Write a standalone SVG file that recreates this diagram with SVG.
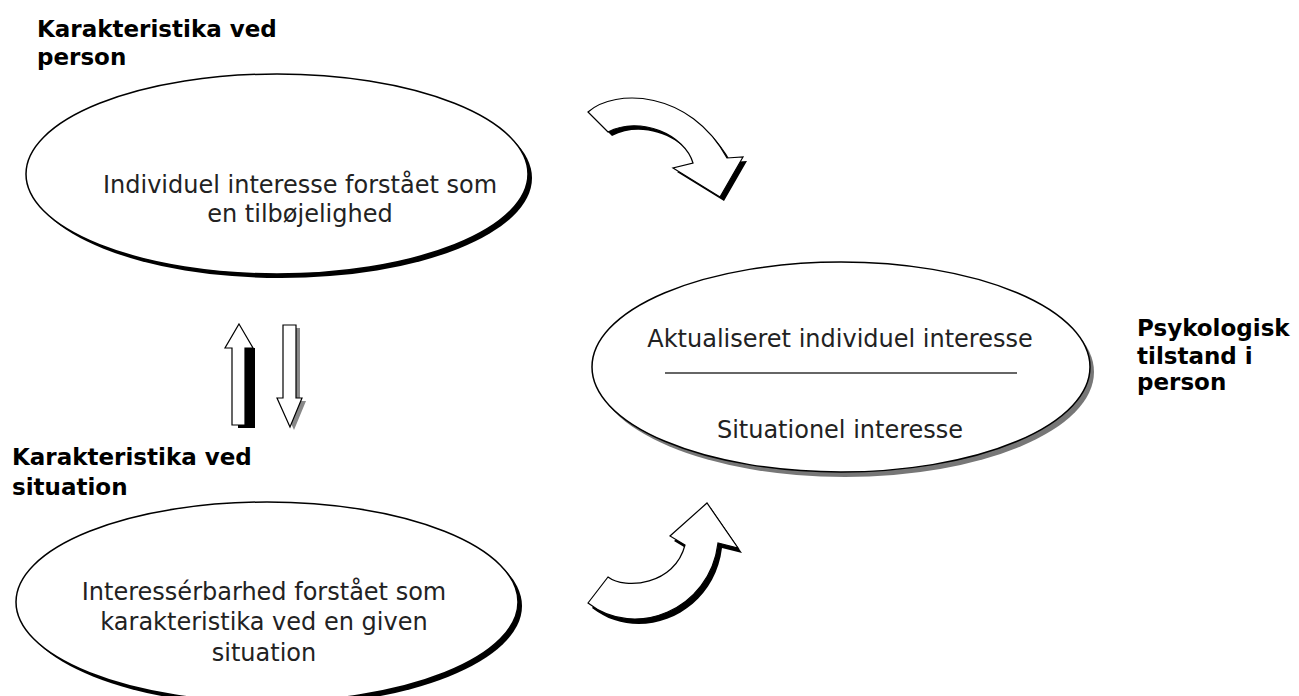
<svg xmlns="http://www.w3.org/2000/svg" width="1299" height="696" viewBox="0 0 1299 696">
<style>
.lbl{font-family:"DejaVu Sans",Verdana,sans-serif;font-weight:bold;font-size:23px;fill:#000}
.txt{font-family:"DejaVu Sans","Liberation Sans",sans-serif;font-size:24px;fill:#222;text-anchor:middle}
.node{fill:#fff;stroke:#000;stroke-width:1.5}
.arrow{fill:#fff;stroke:#000;stroke-width:1.2;stroke-linejoin:miter}
</style>
<rect x="0" y="0" width="1299" height="696" fill="#fff"/>
<g id="label-person">
<text class="lbl" x="37" y="37">Karakteristika ved</text>
<text class="lbl" x="37" y="65">person</text>
</g>
<g id="label-situation">
<text class="lbl" x="12" y="465">Karakteristika ved</text>
<text class="lbl" x="12" y="495">situation</text>
</g>
<g id="label-psykologisk">
<text class="lbl" x="1137" y="336">Psykologisk</text>
<text class="lbl" x="1137" y="364">tilstand i</text>
<text class="lbl" x="1137" y="390">person</text>
</g>
<g id="node-individuel">
<ellipse cx="281" cy="178" rx="251" ry="100" fill="#000"/>
<ellipse class="node" cx="277" cy="174" rx="251" ry="100"/>
<text class="txt" x="300" y="193">Individuel interesse forstået som</text>
<text class="txt" x="300" y="222">en tilbøjelighed</text>
</g>
<g id="node-aktualiseret">
<ellipse cx="845" cy="372" rx="249" ry="105" fill="#777"/>
<ellipse class="node" cx="841" cy="367" rx="249" ry="105"/>
<text class="txt" x="840" y="347">Aktualiseret individuel interesse</text>
<line x1="665" y1="373" x2="1017" y2="373" stroke="#333" stroke-width="1.5"/>
<text class="txt" x="840" y="438">Situationel interesse</text>
</g>
<g id="node-interesserbarhed">
<ellipse cx="271" cy="606" rx="251" ry="100" fill="#000"/>
<ellipse class="node" cx="267" cy="602" rx="251" ry="100"/>
<text class="txt" x="264" y="600">Interessérbarhed forstået som</text>
<text class="txt" x="264" y="630">karakteristika ved en given</text>
<text class="txt" x="264" y="661">situation</text>
</g>
<g id="connectors">
<g id="arrow-top">
<path transform="translate(4,4)" fill="#000" d="M588 112 C615 88 690 90 727 158 L743 157 L720 197 L673 168 L693 163 C685 135 640 115 608 132 Z"/>
<path class="arrow" d="M588 112 C615 88 690 90 727 158 L743 157 L720 197 L673 168 L693 163 C685 135 640 115 608 132 Z"/>
</g>
<g id="arrow-bottom">
<path transform="translate(4,5)" fill="#000" d="M588 603 L608 577 C625 590 675 585 685 545 L670 536 L707 503 L738 548 L718 543 C710 610 635 640 588 603 Z"/>
<path class="arrow" d="M588 603 L608 577 C625 590 675 585 685 545 L670 536 L707 503 L738 548 L718 543 C710 610 635 640 588 603 Z"/>
</g>
<g id="arrow-up">
<rect x="238" y="348" width="17" height="80" fill="#000"/>
<polygon class="arrow" points="239,324 253,348 245,348 245,425 232,425 232,348 225,348"/>
</g>
<g id="arrow-down">
<polygon transform="translate(4,3)" fill="#888" points="283,325 296,325 296,398 302,398 290,427 277,398 283,398"/>
<polygon class="arrow" points="283,325 296,325 296,398 302,398 290,427 277,398 283,398"/>
</g>
</g>
</svg>
